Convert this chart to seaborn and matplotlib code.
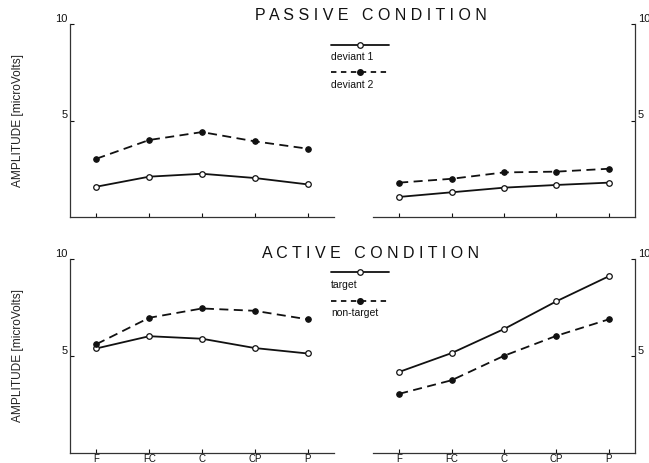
import numpy as np
import pandas as pd
import matplotlib
matplotlib.use("Agg")
import matplotlib.pyplot as plt
from matplotlib.lines import Line2D
import seaborn as sns

sites = ["F", "FC", "C", "CP", "P"]

# Passive condition
passive_left_dev1 = [1.57, 2.09, 2.24, 2.02, 1.69]
passive_left_dev2 = [3.02, 3.99, 4.40, 3.92, 3.54]
passive_right_dev1 = [1.04, 1.28, 1.52, 1.66, 1.78]
passive_right_dev2 = [1.78, 1.98, 2.31, 2.35, 2.50]

# Active condition
active_left_target = [5.39, 6.02, 5.89, 5.41, 5.13]
active_left_nontarget = [5.61, 6.97, 7.45, 7.33, 6.89]
active_right_target = [4.18, 5.15, 6.39, 7.82, 9.11]
active_right_nontarget = [3.05, 3.75, 5.01, 6.04, 6.89]

yticks = [5, 10]
ylabel = "AMPLITUDE [microVolts]"
titles = ["PASSIVE CONDITION", "ACTIVE CONDITION"]
legend_labels = [["deviant 1", "deviant 2"], ["target", "non-target"]]

sns.set_style("ticks")
plt.rcParams["font.family"] = ["Liberation Sans", "DejaVu Sans"]

W, H = 649, 463
fig = plt.figure(figsize=(W / 100, H / 100), dpi=100)

def px_axes(x0, y_top, x1, y_bot):
    return fig.add_axes([x0 / W, 1 - y_bot / H, (x1 - x0) / W, (y_bot - y_top) / H])

axes = [
    [px_axes(70, 24, 334, 217), px_axes(373, 24, 635, 217)],
    [px_axes(70, 259, 334, 453), px_axes(373, 259, 635, 453)],
]

data = [
    [(passive_left_dev1, passive_left_dev2), (passive_right_dev1, passive_right_dev2)],
    [(active_left_target, active_left_nontarget), (active_right_target, active_right_nontarget)],
]

xpos = np.arange(len(sites))
col = "#111111"
ms = 4.0

for r in range(2):
    for c in range(2):
        ax = axes[r][c]
        s1, s2 = data[r][c]
        df = pd.DataFrame({"x": xpos, "s1": s1, "s2": s2})
        sns.lineplot(data=df, x="x", y="s1", ax=ax, color=col, lw=1.3,
                     marker="o", markersize=ms, markerfacecolor="white",
                     markeredgecolor=col, markeredgewidth=0.9)
        sns.lineplot(data=df, x="x", y="s2", ax=ax, color=col, lw=1.3,
                     linestyle=(0, (5, 3)), marker="o", markersize=ms,
                     markerfacecolor=col, markeredgecolor=col)
        ax.set_xlim(-0.5, len(sites) - 0.5)
        ax.set_ylim(0, 10)
        ax.set_xlabel("")
        ax.set_ylabel("")
        ax.set_xticks(xpos)
        if r == 1:
            ax.set_xticklabels(sites, fontsize=7)
        else:
            ax.set_xticklabels([])
        ax.tick_params(axis="x", direction="in", length=3, width=0.8, pad=1, colors=col)
        ax.set_yticks(yticks)
        ax.set_yticklabels([str(t) for t in yticks], fontsize=8, va="bottom")
        ax.tick_params(axis="y", direction="in", length=3, width=0.8, pad=2, colors=col)
        ax.spines["top"].set_visible(False)
        if c == 0:
            ax.spines["right"].set_visible(False)
            ax.set_ylabel(ylabel, fontsize=8.6, labelpad=22, color="#222222")
        else:
            ax.spines["left"].set_visible(False)
            ax.yaxis.tick_right()
            ax.spines["right"].set_visible(True)
        for sp in ax.spines.values():
            sp.set_linewidth(0.9)
            sp.set_color("#333333")

# Titles (letter-spaced)
def spaced(t):
    return "   ".join(" ".join(w) for w in t.split())

title_y = [16, 253]
for r in range(2):
    fig.text(371 / W, 1 - title_y[r] / H, spaced(titles[r]), ha="center", va="center",
             fontsize=11.5, color=col)

# Legends: line sample above label
leg_rows = [[45, 57, 72, 85], [272, 285, 301, 313]]
for r in range(2):
    l1y, t1y, l2y, t2y = leg_rows[r]
    x0, x1 = 331, 389
    xm = (x0 + x1) / 2
    fig.add_artist(Line2D([x0 / W, x1 / W], [1 - l1y / H, 1 - l1y / H], color=col, lw=1.3,
                          transform=fig.transFigure))
    fig.add_artist(Line2D([xm / W], [1 - l1y / H], marker="o", markersize=ms,
                          markerfacecolor="white", markeredgecolor=col, markeredgewidth=0.9,
                          transform=fig.transFigure))
    fig.text(x0 / W, 1 - t1y / H, legend_labels[r][0], ha="left", va="center", fontsize=7.5, color=col)
    fig.add_artist(Line2D([x0 / W, x1 / W], [1 - l2y / H, 1 - l2y / H], color=col, lw=1.3,
                          linestyle=(0, (3, 2.5)), transform=fig.transFigure))
    fig.add_artist(Line2D([xm / W], [1 - l2y / H], marker="o", markersize=ms,
                          markerfacecolor=col, markeredgecolor=col,
                          transform=fig.transFigure))
    fig.text(x0 / W, 1 - t2y / H, legend_labels[r][1], ha="left", va="center", fontsize=7.5, color=col)

fig.savefig("out.png", dpi=100)
